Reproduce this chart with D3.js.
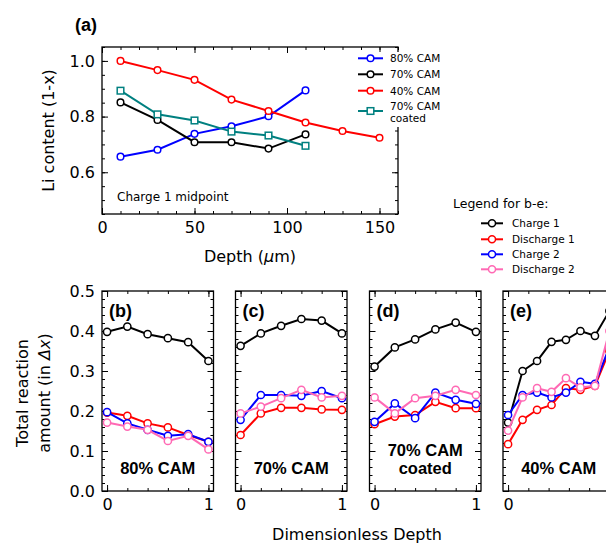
<!DOCTYPE html>
<html><head><meta charset="utf-8">
<script src="https://cdn.jsdelivr.net/npm/d3@7"></script>
<style>
body{margin:0;background:#fff}
svg{display:block}
text{font-family:"DejaVu Sans",sans-serif;fill:#000}
.tick text{font-family:"DejaVu Sans",sans-serif}
</style></head>
<body><svg id="c" width="606" height="545"></svg>
<script>
// ---------- Panel (a) data ----------
const depthA = [10, 30, 50, 70, 90, 110, 130, 150];
const cam80A = [0.656, 0.681, 0.738, 0.765, 0.801, 0.894];
const cam70A = [0.851, 0.788, 0.708, 0.708, 0.685, 0.736];
const cam40A = [1.0, 0.967, 0.932, 0.861, 0.82, 0.779, 0.748, 0.724];
const cam70cA = [0.893, 0.808, 0.786, 0.746, 0.732, 0.695];
const seriesA = [
  {name: "80% CAM", color: "#0000ff", vals: cam80A, marker: "circle"},
  {name: "70% CAM", color: "#000000", vals: cam70A, marker: "circle"},
  {name: "40% CAM", color: "#ff0000", vals: cam40A, marker: "circle"},
  {name: "70% CAM\ncoated", color: "#008080", vals: cam70cA, marker: "square"}
];
const aXTicks = [0, 50, 100, 150];
const aYTicks = [0.6, 0.8, 1.0];

// ---------- Panels (b)-(e) data ----------
const depth6 = [0, 0.2, 0.4, 0.6, 0.8, 1.0];
const depth8 = [0, 0.143, 0.286, 0.429, 0.571, 0.714, 0.857, 1.0];
const legendNames = ["Charge 1", "Discharge 1", "Charge 2", "Discharge 2"];
const legendColors = ["#000000", "#ff0000", "#0000ff", "#ff69b4"];

const bCharge1 = [0.398, 0.411, 0.392, 0.382, 0.372, 0.325];
const bDischarge1 = [0.196, 0.188, 0.169, 0.159, 0.140, 0.123];
const bCharge2 = [0.197, 0.169, 0.153, 0.138, 0.142, 0.123];
const bDischarge2 = [0.171, 0.161, 0.153, 0.125, 0.138, 0.104];

const cCharge1 = [0.363, 0.394, 0.413, 0.430, 0.426, 0.394];
const cDischarge1 = [0.140, 0.194, 0.208, 0.208, 0.204, 0.203];
const cCharge2 = [0.178, 0.240, 0.240, 0.238, 0.250, 0.232];
const cDischarge2 = [0.194, 0.211, 0.232, 0.253, 0.234, 0.238];

const dCharge1 = [0.311, 0.359, 0.379, 0.404, 0.421, 0.398];
const dDischarge1 = [0.167, 0.186, 0.190, 0.223, 0.207, 0.207];
const dCharge2 = [0.173, 0.219, 0.182, 0.246, 0.228, 0.218];
const dDischarge2 = [0.234, 0.194, 0.232, 0.238, 0.253, 0.240];

const eCharge1 = [0.171, 0.300, 0.325, 0.373, 0.378, 0.400, 0.388, 0.450];
const eDischarge1 = [0.117, 0.178, 0.203, 0.215, 0.257, 0.253, 0.263, 0.350];
const eCharge2 = [0.190, 0.240, 0.246, 0.234, 0.246, 0.273, 0.268, 0.360];
const eDischarge2 = [0.151, 0.234, 0.257, 0.248, 0.282, 0.259, 0.263, 0.400];

const panels = [
  {tag: "(b)", label: ["80% CAM"], x: depth6, s: [bCharge1, bDischarge1, bCharge2, bDischarge2], yLabels: true},
  {tag: "(c)", label: ["70% CAM"], x: depth6, s: [cCharge1, cDischarge1, cCharge2, cDischarge2], yLabels: false},
  {tag: "(d)", label: ["70% CAM", "coated"], x: depth6, s: [dCharge1, dDischarge1, dCharge2, dDischarge2], yLabels: false},
  {tag: "(e)", label: ["40% CAM"], x: depth8, s: [eCharge1, eDischarge1, eCharge2, eDischarge2], yLabels: false}
];
const bYTicks = [0.0, 0.1, 0.2, 0.3, 0.4, 0.5];
const bXTicks = [0, 1];

const svg = d3.select("#c");

function range(a, b, step) { const r = []; for (let v = a; v <= b + 1e-9; v += step) r.push(+v.toFixed(6)); return r; }

function frameAxes(g, x, y, xMajor, yMajor, xMinor, yMinor, showX, showY, yFmt, xFmt) {
  const [x0, x1] = x.range(), [y1, y0] = y.range();
  const mk = (axisFn, scale, vals, size, fmt, tr, pad) => {
    const a = axisFn(scale).tickValues(vals).tickSizeInner(-size).tickSizeOuter(0).tickPadding(pad);
    a.tickFormat(fmt || (() => ""));
    const gg = g.append("g").attr("transform", tr).call(a);
    gg.select(".domain").remove();
    gg.selectAll("line").attr("stroke", "#000").attr("stroke-width", 1);
    gg.selectAll("text").attr("font-size", 16).attr("fill", "#000");
    return gg;
  };
  mk(d3.axisBottom, x, xMajor, 6, showX ? xFmt : null, `translate(0,${y1})`, 8);
  mk(d3.axisBottom, x, xMinor, 3, null, `translate(0,${y1})`, 8);
  mk(d3.axisTop, x, xMajor, 6, null, `translate(0,${y0})`, 8);
  mk(d3.axisTop, x, xMinor, 3, null, `translate(0,${y0})`, 8);
  mk(d3.axisLeft, y, yMajor, 6, showY ? yFmt : null, `translate(${x0},0)`, 7);
  mk(d3.axisLeft, y, yMinor, 3, null, `translate(${x0},0)`, 7);
  mk(d3.axisRight, y, yMajor, 6, null, `translate(${x1},0)`, 7);
  mk(d3.axisRight, y, yMinor, 3, null, `translate(${x1},0)`, 7);
  g.append("rect").attr("x", x0).attr("y", y0).attr("width", x1 - x0).attr("height", y1 - y0)
    .attr("fill", "none").attr("stroke", "#000").attr("stroke-width", 1.3);
}

// ---------- Panel (a) ----------
{
  const x = d3.scaleLinear().domain([0, 160]).range([102, 398]);
  const y = d3.scaleLinear().domain([0.45, 1.05]).range([214, 47]);
  const g = svg.append("g");
  frameAxes(g, x, y, aXTicks, aYTicks, range(0, 160, 10), range(0.45, 1.05, 0.05), true, true,
    d3.format(".1f"), d3.format("d"));

  const line = d3.line().x((d, i) => x(depthA[i])).y(d => y(d));
  seriesA.forEach(s => {
    g.append("path").datum(s.vals).attr("d", line).attr("fill", "none")
      .attr("stroke", s.color).attr("stroke-width", 2);
    if (s.marker === "circle") {
      g.selectAll(null).data(s.vals).enter().append("circle")
        .attr("cx", (d, i) => x(depthA[i])).attr("cy", d => y(d)).attr("r", 3.3)
        .attr("fill", "#fff").attr("stroke", s.color).attr("stroke-width", 1.5);
    } else {
      g.selectAll(null).data(s.vals).enter().append("rect")
        .attr("x", (d, i) => x(depthA[i]) - 3.3).attr("y", d => y(d) - 3.3)
        .attr("width", 6.6).attr("height", 6.6)
        .attr("fill", "#fff").attr("stroke", s.color).attr("stroke-width", 1.5);
    }
  });

  g.append("text").attr("x", 117).attr("y", 201).attr("font-size", 12).text("Charge 1 midpoint");

  // legend (white box hides part of the right spine)
  g.append("rect").attr("x", 352).attr("y", 52).attr("width", 100).attr("height", 75).attr("fill", "#fff");
  const rows = [58.3, 74.3, 90.7, 111];
  seriesA.forEach((s, i) => {
    const ry = rows[i];
    g.append("line").attr("x1", 358).attr("x2", 383).attr("y1", ry).attr("y2", ry)
      .attr("stroke", s.color).attr("stroke-width", 2);
    if (s.marker === "circle") {
      g.append("circle").attr("cx", 370.5).attr("cy", ry).attr("r", 3.3)
        .attr("fill", "#fff").attr("stroke", s.color).attr("stroke-width", 1.5);
    } else {
      g.append("rect").attr("x", 367.2).attr("y", ry - 3.3).attr("width", 6.6).attr("height", 6.6)
        .attr("fill", "#fff").attr("stroke", s.color).attr("stroke-width", 1.5);
    }
    const parts = s.name.split("\n");
    if (parts.length === 1) {
      g.append("text").attr("x", 390).attr("y", ry + 3.8).attr("font-size", 10.5).text(parts[0]);
    } else {
      g.append("text").attr("x", 390).attr("y", 109.5).attr("font-size", 10.5).text(parts[0]);
      g.append("text").attr("x", 390).attr("y", 121.5).attr("font-size", 10.5).text(parts[1]);
    }
  });

  g.append("text").attr("transform", "translate(54,130.5) rotate(-90)").attr("text-anchor", "middle")
    .attr("font-size", 16).text("Li content (1-x)");
  const xl = g.append("text").attr("x", 250).attr("y", 262).attr("text-anchor", "middle").attr("font-size", 16);
  xl.append("tspan").text("Depth (");
  xl.append("tspan").attr("font-style", "italic").text("\u03bc");
  xl.append("tspan").text("m)");
  g.append("text").attr("x", 75).attr("y", 31).attr("font-size", 18).attr("font-weight", "bold")
    .style("font-family", "'Liberation Sans', Arial, sans-serif").text("(a)");
}

// ---------- Legend for b-e ----------
{
  const g = svg.append("g");
  g.append("text").attr("x", 453).attr("y", 208).attr("font-size", 12.5).text("Legend for b-e:");
  const rows = [223.3, 239.3, 254.3, 269.3];
  legendNames.forEach((n, i) => {
    const ry = rows[i];
    g.append("line").attr("x1", 481).attr("x2", 503).attr("y1", ry).attr("y2", ry)
      .attr("stroke", legendColors[i]).attr("stroke-width", 2);
    g.append("circle").attr("cx", 492).attr("cy", ry).attr("r", 3.5)
      .attr("fill", "#fff").attr("stroke", legendColors[i]).attr("stroke-width", 1.5);
    g.append("text").attr("x", 512).attr("y", ry + 3.8).attr("font-size", 10.5).text(n);
  });
}

// ---------- Panels (b)-(e) ----------
const lefts = [102, 235.5, 369.5, 503];
const pw = 111.5;
const y = d3.scaleLinear().domain([0, 0.5]).range([491, 291]);
panels.forEach((p, k) => {
  const x = d3.scaleLinear().domain([-0.05, 1.05]).range([lefts[k], lefts[k] + pw]);
  const g = svg.append("g");
  frameAxes(g, x, y, bXTicks, bYTicks, range(0, 1, 0.2), range(0, 0.5, 0.02), true, p.yLabels,
    d3.format(".1f"), d3.format("d"));
  const line = d3.line().x((d, i) => x(p.x[i])).y(d => y(d));
  p.s.forEach((vals, si) => {
    g.append("path").datum(vals).attr("d", line).attr("fill", "none")
      .attr("stroke", legendColors[si]).attr("stroke-width", 2);
    g.selectAll(null).data(vals).enter().append("circle")
      .attr("cx", (d, i) => x(p.x[i])).attr("cy", d => y(d)).attr("r", 3.6)
      .attr("fill", "#fff").attr("stroke", legendColors[si]).attr("stroke-width", 1.5);
  });
  g.append("text").attr("x", lefts[k] + 7).attr("y", 317).attr("font-size", 18).attr("font-weight", "bold")
    .style("font-family", "'Liberation Sans', Arial, sans-serif").text(p.tag);
  const cx = lefts[k] + pw / 2;
  const baseY = p.label.length === 1 ? 474 : 456;
  p.label.forEach((t, j) => {
    g.append("text").attr("x", cx).attr("y", baseY + j * 18).attr("text-anchor", "middle")
      .attr("font-size", 16.5).attr("font-weight", "bold")
      .style("font-family", "'Liberation Sans', Arial, sans-serif").text(t);
  });
});

// y label for bottom row
{
  const t1 = svg.append("text").attr("transform", "translate(28,393) rotate(-90)").attr("text-anchor", "middle")
    .attr("font-size", 16).text("Total reaction");
  const t2 = svg.append("text").attr("transform", "translate(50,393) rotate(-90)").attr("text-anchor", "middle")
    .attr("font-size", 16);
  t2.append("tspan").text("amount (in ");
  t2.append("tspan").attr("font-style", "italic").text("\u0394x");
  t2.append("tspan").text(")");
  svg.append("text").attr("x", 357).attr("y", 540).attr("text-anchor", "middle").attr("font-size", 16)
    .text("Dimensionless Depth");
}
</script></body></html>
